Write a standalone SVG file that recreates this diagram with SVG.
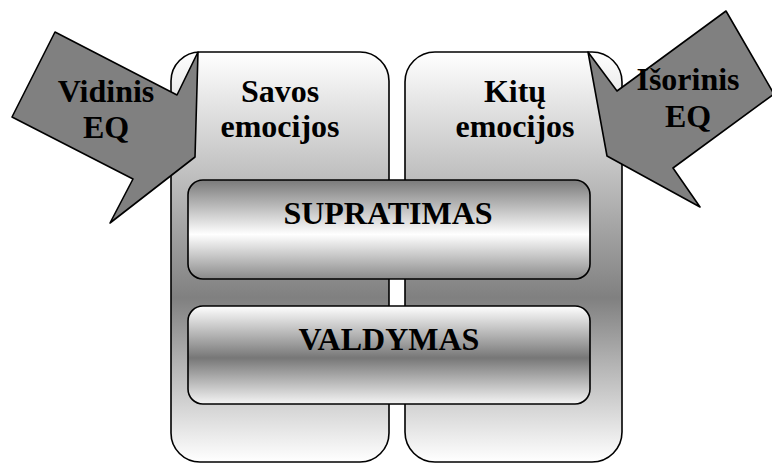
<svg xmlns="http://www.w3.org/2000/svg" width="772" height="463" viewBox="0 0 772 463">
<defs>
<linearGradient id="gPanel" gradientUnits="userSpaceOnUse" x1="0" y1="52" x2="0" y2="462">
<stop offset="0" stop-color="#ffffff"/>
<stop offset="0.6" stop-color="#808080"/>
<stop offset="1" stop-color="#ffffff"/>
</linearGradient>
<linearGradient id="gTop" x1="0" y1="0" x2="0" y2="1">
<stop offset="0" stop-color="#7a7a7a"/>
<stop offset="0.55" stop-color="#ffffff"/>
<stop offset="1" stop-color="#8a8a8a"/>
</linearGradient>
<linearGradient id="gBot" x1="0" y1="0" x2="0" y2="1">
<stop offset="0" stop-color="#ffffff"/>
<stop offset="0.53" stop-color="#777777"/>
<stop offset="1" stop-color="#f4f4f4"/>
</linearGradient>
</defs>
<style>
.ln{stroke:#000;stroke-width:1.6;stroke-linejoin:round}
.panel{fill:url(#gPanel)}
.arrow{fill:#808080}
.t{font-family:"Liberation Serif","Times New Roman",serif;font-weight:bold;font-size:32px;fill:#000;text-anchor:middle}
</style>
<rect width="772" height="463" fill="#fff"/>
<g id="panel-savos">
<rect class="panel ln" x="171" y="52" width="218" height="410" rx="29" ry="29"/>
<text class="t" x="280" y="102">Savos</text>
<text class="t" x="280" y="137">emocijos</text>
</g>
<g id="panel-kitu">
<rect class="panel ln" x="405" y="52" width="217" height="410" rx="30" ry="30"/>
<text class="t" x="515" y="102">Kitų</text>
<text class="t" x="515" y="137">emocijos</text>
</g>
<g id="arrow-vidinis">
<polygon class="arrow ln" points="55,32 177,95 198,52 195,157 110,223 133,179 12,117"/>
<text class="t" x="106" y="102">Vidinis</text>
<text class="t" x="106" y="138">EQ</text>
</g>
<g id="arrow-isorinis">
<polygon class="arrow ln" points="726,11 774,94 673,168 700,207 607,156 588,52 617,91"/>
<text class="t" x="688" y="90">Išorinis</text>
<text class="t" x="688" y="127">EQ</text>
</g>
<g id="box-supratimas">
<rect class="ln" fill="url(#gTop)" x="188" y="180" width="402" height="99" rx="15" ry="15"/>
<text class="t" x="388" y="224">SUPRATIMAS</text>
</g>
<g id="box-valdymas">
<rect class="ln" fill="url(#gBot)" x="188" y="306" width="402" height="98" rx="15" ry="15"/>
<text class="t" x="389" y="350">VALDYMAS</text>
</g>
<g id="connectors"></g>
</svg>
